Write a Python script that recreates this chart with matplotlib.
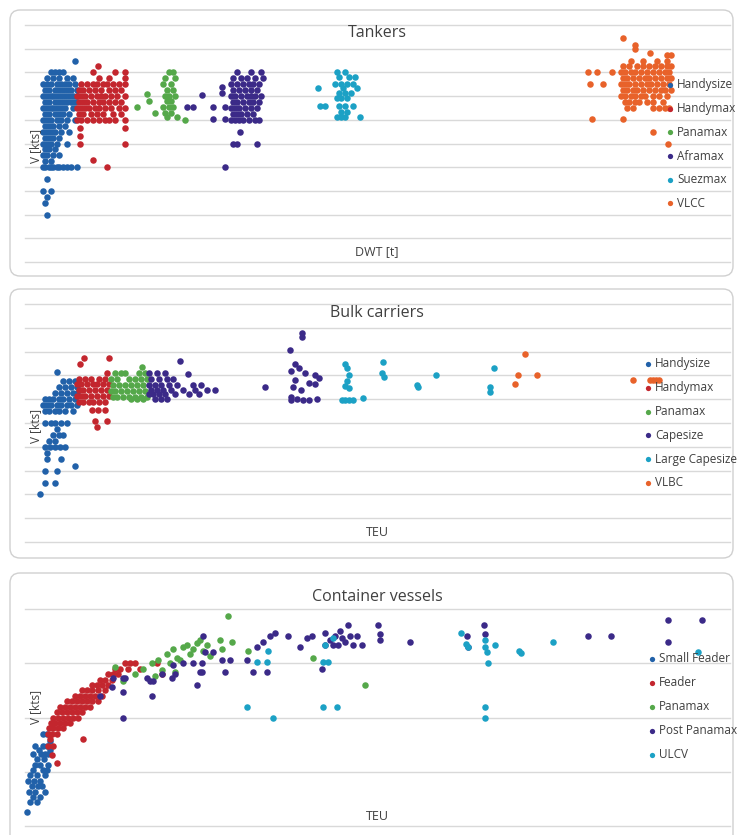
import matplotlib
matplotlib.use("Agg")
import matplotlib.pyplot as plt
from matplotlib.patches import FancyBboxPatch

plt.rcParams['font.family'] = ['Open Sans', 'DejaVu Sans']

# colours
BLUE = "#2161a9"
RED = "#c3262e"
GREEN = "#55a84a"
PURPLE = "#3b2a88"
CYAN = "#1ca1c5"
ORANGE = "#e8622a"
TEXT = "#404040"
GRID = "#d9d9d9"

# ---------------- Tankers: rows of (speed kts, [DWT in kt]) ----------------
tank_handysize = [
    (17.0, [25]),
    (16.0, [13, 15, 17, 19]),
    (15.5, [11, 14, 17, 21, 24]),
    (15.0, [9, 11, 13, 16, 18, 20, 22, 25]),
    (14.5, [10, 12, 15, 17, 19, 21, 23, 26]),
    (14.0, [9, 11, 13, 14, 16, 18, 20, 22, 24, 26]),
    (13.5, [10, 12, 15, 17, 19, 21, 23, 25]),
    (13.0, [9, 11, 13, 14, 16, 18, 20, 24]),
    (12.5, [10, 12, 15, 17, 19, 22]),
    (12.0, [9, 11, 13, 16, 18, 21, 25]),
    (11.5, [10, 12, 14, 17, 20]),
    (11.0, [9, 11, 13, 15, 18, 22]),
    (10.5, [10, 12, 14, 17]),
    (10.0, [9, 11, 13, 16, 21]),
    (9.5, [10, 12, 15]),
    (9.0, [9, 11, 14, 17]),
    (8.5, [10, 13]),
    (8.0, [9, 10, 12, 13, 14, 16, 17, 19, 21, 23, 26]),
    (7.0, [11]),
    (6.0, [9, 13]),
    (5.5, [11]),
    (5.0, [10]),
    (4.0, [11]),
]
tank_handymax = [
    (16.5, [36.5]),
    (16.0, [34, 45, 50]),
    (15.5, [37, 42, 50]),
    (15.0, [28, 31, 34, 36, 39, 41, 44, 47, 50]),
    (14.5, [27, 29, 32, 35, 38, 42, 45, 48]),
    (14.0, [26, 28, 30, 33, 36, 38, 40, 43, 46, 50]),
    (13.5, [27, 29, 31, 34, 37, 39, 42, 45, 48]),
    (13.0, [26, 28, 30, 32, 35, 37, 40, 43, 47, 50]),
    (12.5, [27, 29, 33, 36, 39, 44, 48]),
    (12.0, [26, 28, 31, 34, 37, 40, 42, 45, 50]),
    (11.3, [27.5, 50]),
    (10.6, [27.5]),
    (10.0, [27.5, 50]),
    (8.6, [34]),
    (8.0, [41]),
]
tank_panamax = [
    (16.0, [72, 74]),
    (15.5, [70, 75]),
    (15.0, [69, 73]),
    (14.5, [71, 74]),
    (14.2, [61]),
    (14.0, [70, 72, 75]),
    (13.6, [62, 71, 73]),
    (13.1, [56, 69, 72, 74]),
    (12.6, [65, 70, 73]),
    (12.2, [71, 76]),
    (12.0, [80]),
]
tank_aframax = [
    (16.0, [106, 113, 118]),
    (15.5, [104, 108, 111, 115, 119]),
    (15.0, [103, 106, 109, 112, 114, 117]),
    (14.8, [98.5]),
    (14.5, [104, 107, 110, 113, 116]),
    (14.3, [98.5]),
    (14.1, [88.5]),
    (14.0, [103, 105, 108, 111, 113, 115, 118]),
    (13.5, [104, 106, 109, 112, 114, 117]),
    (13.1, [81, 84, 94, 100]),
    (13.0, [103, 105, 107, 110, 113, 116]),
    (12.5, [104, 106, 108, 111, 114]),
    (12.1, [94, 100]),
    (12.0, [103, 105, 107, 109, 112, 115, 117]),
    (11.0, [107.5]),
    (10.0, [104, 106, 116]),
    (8.0, [100]),
]
tank_suezmax = [
    (16.0, [156, 160]),
    (15.6, [157, 162, 165]),
    (15.0, [155, 158, 161, 164]),
    (14.7, [146.5, 159, 166]),
    (14.3, [157, 160, 163]),
    (13.8, [156, 158, 161]),
    (13.2, [147.5, 150, 157, 160, 164]),
    (12.7, [158, 161]),
    (12.2, [156, 158, 160, 167.5]),
]
tank_vlcc = [
    (18.9, [299]),
    (18.3, [305]),
    (18.0, [305]),
    (17.6, [312.5]),
    (17.5, [321, 323]),
    (17.0, [303, 309, 316, 321]),
    (16.5, [299, 302, 306, 309, 312, 315, 318, 321, 323]),
    (16.0, [281.5, 286, 293.5, 298, 300, 303, 305, 308, 311, 314, 317, 320, 322]),
    (15.5, [299, 301, 304, 307, 310, 312, 315, 318, 321, 323]),
    (15.0, [282.5, 289, 298, 300, 302, 305, 308, 311, 313, 316, 319, 322]),
    (14.5, [299, 301, 304, 306, 309, 312, 315, 318, 320, 323]),
    (14.0, [298, 300, 303, 305, 308, 310, 314, 317, 321]),
    (13.5, [300, 302, 305, 307, 311, 314, 319]),
    (13.0, [301, 304, 314, 317, 320, 322]),
    (12.1, [283.5, 299]),
    (11.0, [314]),
    (10.0, [321.5]),
]
tank_names = ["Handysize", "Handymax", "Panamax", "Aframax", "Suezmax", "VLCC"]

# ---------------- Bulk carriers ----------------
bulk_handysize = [
    (14.3, [16]),
    (13.5, [19, 22, 25]),
    (13.0, [17, 20, 23, 26]),
    (12.5, [15, 18, 21, 24, 26]),
    (12.0, [10, 12, 14, 17, 19, 22, 25]),
    (11.5, [9, 11, 13, 16, 18, 21, 23, 26]),
    (11.0, [10, 12, 15, 17, 20, 24]),
    (10.0, [10, 13, 15, 18, 21]),
    (9.5, [16]),
    (9.0, [14, 17, 19]),
    (8.5, [12, 15]),
    (8.0, [10, 12.5, 15, 17.5, 20]),
    (7.5, [11]),
    (7.0, [11, 18]),
    (6.4, [25]),
    (6.0, [10, 16]),
    (5.0, [10, 15]),
    (4.0, [7.5]),
]
bulk_handymax = [
    (15.5, [29.5, 42]),
    (15.0, [27.5]),
    (14.2, [41]),
    (13.7, [27, 30, 33, 37, 40]),
    (13.3, [26, 28, 31, 34, 36, 39, 42]),
    (12.8, [27, 29, 32, 35, 38, 41]),
    (12.3, [26, 28, 30, 33, 36, 39, 42]),
    (11.8, [27, 29, 32, 34, 37, 40]),
    (11.1, [33.5, 36.5, 40]),
    (10.2, [35, 41]),
    (9.7, [36]),
]
bulk_panamax = [
    (14.7, [58.5]),
    (14.2, [45, 48, 50, 57, 60]),
    (13.7, [43, 46, 52, 55, 58, 61]),
    (13.2, [44, 47, 50, 53, 56, 59]),
    (12.7, [43, 45, 48, 51, 54, 57, 60]),
    (12.2, [44, 46, 49, 52, 55, 58, 61]),
    (12.0, [53, 56, 59]),
]
bulk_capesize = [
    (17.6, [138.5]),
    (17.2, [138.5]),
    (16.1, [132.5]),
    (15.2, [77.5]),
    (15.0, [135]),
    (14.6, [137]),
    (14.4, [133]),
    (14.2, [62, 66, 70, 140]),
    (14.1, [81.5]),
    (14.0, [145]),
    (13.8, [147]),
    (13.7, [63, 67, 71, 74]),
    (13.6, [135]),
    (13.4, [142]),
    (13.3, [145]),
    (13.2, [62, 65, 68, 72, 76, 84, 88]),
    (13.0, [120, 134]),
    (12.8, [63, 66, 69, 73, 79, 85, 91, 95, 138]),
    (12.4, [62, 64, 67, 70, 75, 82, 87]),
    (12.2, [133]),
    (12.0, [65, 68, 71, 136, 146]),
    (11.9, [133, 139, 142]),
]
bulk_large_capesize = [
    (15.1, [179]),
    (15.0, [160]),
    (14.6, [161, 234.5]),
    (14.2, [178.5]),
    (14.0, [162, 205.5]),
    (13.9, [179.5]),
    (13.5, [161]),
    (13.2, [196]),
    (13.1, [160]),
    (13.0, [196.5, 232.5]),
    (12.9, [162]),
    (12.6, [232.5]),
    (12.1, [169]),
    (11.9, [158.5, 160, 162, 164]),
]
bulk_vlbc = [
    (15.8, [250]),
    (14.0, [246.5, 256]),
    (13.6, [304, 312.5, 314, 315.5, 317]),
    (13.3, [245]),
]
bulk_names = ["Handysize", "Handymax", "Panamax", "Capesize", "Large Capesize", "VLBC"]

# ---------------- Container vessels: rows of (speed kts, [TEU]) ----------------
cont_small_feeder = [
    (17.1, [540, 660]),
    (16.7, [750]),
    (16.4, [300, 540, 660]),
    (16.2, [420, 750]),
    (16.0, [240, 480, 600, 690]),
    (15.7, [360, 570]),
    (15.4, [300, 450, 690]),
    (15.1, [240, 540, 660]),
    (14.8, [150, 360, 600]),
    (14.5, [90, 270, 450]),
    (14.2, [210, 390, 510]),
    (13.9, [120, 300, 600]),
    (13.6, [240, 450]),
    (13.3, [150, 360]),
    (12.8, [60]),
]
cont_feeder = [
    (21.0, [3000, 3150, 3300, 3960]),
    (20.7, [2700, 2850, 3100, 3450]),
    (20.4, [2500, 2650, 2800, 4110]),
    (20.1, [2250, 2400, 2600]),
    (19.8, [2000, 2150, 2300, 2500]),
    (19.5, [1700, 1850, 2000, 2200, 2400]),
    (19.2, [1500, 1650, 1800, 1950, 2100, 2300]),
    (18.9, [1250, 1400, 1550, 1700, 1850, 2000, 2200]),
    (18.6, [1050, 1200, 1350, 1500, 1650, 1800, 1950]),
    (18.3, [950, 1100, 1250, 1400, 1550, 1700]),
    (18.0, [850, 1000, 1150, 1300, 1450, 1600]),
    (17.7, [780, 900, 1050, 1200, 1350]),
    (17.4, [720, 850, 1000, 1150]),
    (17.1, [700, 800, 950]),
    (16.8, [750, 1740]),
    (16.4, [690, 840]),
    (15.9, [810]),
    (15.5, [960]),
]
cont_panamax = [
    (23.6, [6090]),
    (22.3, [5250, 5850]),
    (22.2, [6210]),
    (22.1, [5150]),
    (22.0, [4860, 5450]),
    (21.9, [4750]),
    (21.8, [4440, 5040, 5900]),
    (21.7, [5350, 6690]),
    (21.5, [4260, 4950]),
    (21.4, [5550]),
    (21.3, [4550, 8640]),
    (21.2, [3990, 4650]),
    (21.0, [3800, 4350]),
    (20.8, [2700]),
    (20.7, [3540]),
    (20.6, [4100]),
    (20.5, [4500]),
    (20.4, [3300]),
    (20.3, [3900]),
    (20.0, [2940]),
    (19.8, [10200]),
]
cont_post_panamax = [
    (23.4, [19290, 20310]),
    (23.1, [9690, 10590, 13770]),
    (22.8, [9450]),
    (22.7, [7500, 9000]),
    (22.6, [10650, 13800]),
    (22.5, [5340, 7350, 7890, 8610, 9300, 9750, 9960, 13260, 16890, 17580]),
    (22.4, [8460, 9510]),
    (22.3, [9150, 10650]),
    (22.2, [7140, 9600, 11550, 19290]),
    (22.0, [9000, 9240, 9390, 9840, 10110]),
    (21.9, [6960, 8250, 13290]),
    (21.6, [5400, 5640]),
    (21.2, [5910, 6150, 6660]),
    (21.0, [4740, 5040, 5310]),
    (20.9, [4440]),
    (20.7, [8910]),
    (20.5, [5250, 5310, 6000, 6840, 7260]),
    (20.4, [4110, 4500]),
    (20.2, [2640, 2940, 3000, 3660, 4410]),
    (20.0, [3750, 3840]),
    (19.8, [5160]),
    (19.7, [2610]),
    (19.4, [2940]),
    (19.2, [2250, 3810]),
    (18.0, [2940]),
]
cont_ulcv = [
    (22.7, [13080]),
    (22.4, [9240]),
    (22.3, [13800]),
    (22.2, [15840]),
    (22.05, [13230]),
    (22.0, [9000, 14100]),
    (21.9, [13290, 13800]),
    (21.7, [7290, 14820]),
    (21.6, [13860, 20190]),
    (21.55, [14880]),
    (21.05, [6960, 7260, 8940, 9090]),
    (21.0, [13890]),
    (18.6, [6660, 8940, 9360, 13800]),
    (18.0, [7440, 13800]),
]
cont_names = ["Small Feader", "Feader", "Panamax", "Post Panamax", "ULCV"]

W, H = 739, 835


def unpack(rows):
    xs, ys = [], []
    for v, xlist in rows:
        for x in xlist:
            xs.append(x)
            ys.append(v)
    return xs, ys


fig = plt.figure(figsize=(W / 100, H / 100), dpi=100)


def panel(box_top, box_bottom, ax_top, ax_bottom, xmax, yticks):
    box = FancyBboxPatch((10 / 100, (H - box_bottom) / 100), 723 / 100,
                         (box_bottom - box_top) / 100,
                         boxstyle="round,pad=0,rounding_size=0.1",
                         transform=fig.dpi_scale_trans, facecolor="none",
                         edgecolor="#d0d0d0", linewidth=1, zorder=-1)
    fig.patches.append(box)
    ax = fig.add_axes([25 / W, 1 - ax_bottom / H, 705 / W, (ax_bottom - ax_top) / H])
    ax.set_facecolor("none")
    ax.set_xlim(0, xmax)
    ax.set_ylim(yticks[0], yticks[-1])
    ax.set_yticks(yticks)
    ax.set_xticks([])
    ax.tick_params(length=0, labelleft=False, labelbottom=False)
    for s in ax.spines.values():
        s.set_visible(False)
    ax.grid(axis="y", color=GRID, linewidth=1)
    for line in ax.get_ygridlines():
        line.set_clip_on(False)
    ax.set_axisbelow(True)
    return ax


def legend(ax, names, colors, x0, y0, dy):
    for i, (name, c) in enumerate(zip(names, colors)):
        y = y0 - i * dy
        ax.plot(x0, y, "o", ms=3.8, color=c, mew=0, transform=ax.transAxes,
                zorder=6, clip_on=False)
        ax.text(x0 + 0.01, y, name, transform=ax.transAxes, va="center",
                ha="left", fontsize=8.5, color=TEXT, zorder=6)


def labels(title, xlab, ty, yy, xy):
    fig.text(377 / W, 1 - ty / H, title, ha="center", va="center",
             fontsize=11.5, color=TEXT)
    fig.text(36 / W, 1 - yy / H, "V [kts]", ha="center", va="center",
             rotation=90, fontsize=8.5, color=TEXT)
    fig.text(377 / W, 1 - xy / H, xlab, ha="center", va="center",
             fontsize=9, color=TEXT)


DOT = 22

# Tankers
ax1 = panel(10, 276, 25, 262, 352.5, list(range(0, 21, 2)))
tank_colors = [BLUE, RED, GREEN, PURPLE, CYAN, ORANGE]
for rows, c in zip([tank_handysize, tank_handymax, tank_panamax, tank_aframax,
                    tank_suezmax, tank_vlcc], tank_colors):
    xs, ys = unpack(rows)
    ax1.scatter(xs, ys, s=DOT, color=c, linewidths=0, zorder=3, clip_on=False)
legend(ax1, tank_names, tank_colors, 0.915, 0.747, 0.1)
labels("Tankers", "DWT [t]", 33, 146, 252)

# Bulk carriers
ax2 = panel(289, 558, 304, 542, 352.5, list(range(0, 21, 2)))
bulk_colors = [BLUE, RED, GREEN, PURPLE, CYAN, ORANGE]
for rows, c in zip([bulk_handysize, bulk_handymax, bulk_panamax, bulk_capesize,
                    bulk_large_capesize, bulk_vlbc], bulk_colors):
    xs, ys = unpack(rows)
    ax2.scatter(xs, ys, s=DOT, color=c, linewidths=0, zorder=3, clip_on=False)
legend(ax2, bulk_names, bulk_colors, 0.884, 0.748, 0.1)
labels("Bulk carriers", "TEU", 313, 426, 533)

# Container vessels
ax3 = panel(573, 850, 609, 826, 21150, [12, 15, 18, 21, 24])
cont_colors = [BLUE, RED, GREEN, PURPLE, CYAN]
for rows, c in zip([cont_small_feeder, cont_feeder, cont_panamax,
                    cont_post_panamax, cont_ulcv], cont_colors):
    xs, ys = unpack(rows)
    ax3.scatter(xs, ys, s=DOT, color=c, linewidths=0, zorder=3, clip_on=False)
legend(ax3, cont_names, cont_colors, 0.889, 0.770, 0.1106)
labels("Container vessels", "TEU", 597, 707, 817)

fig.savefig("out.png", dpi=100, facecolor="white")
